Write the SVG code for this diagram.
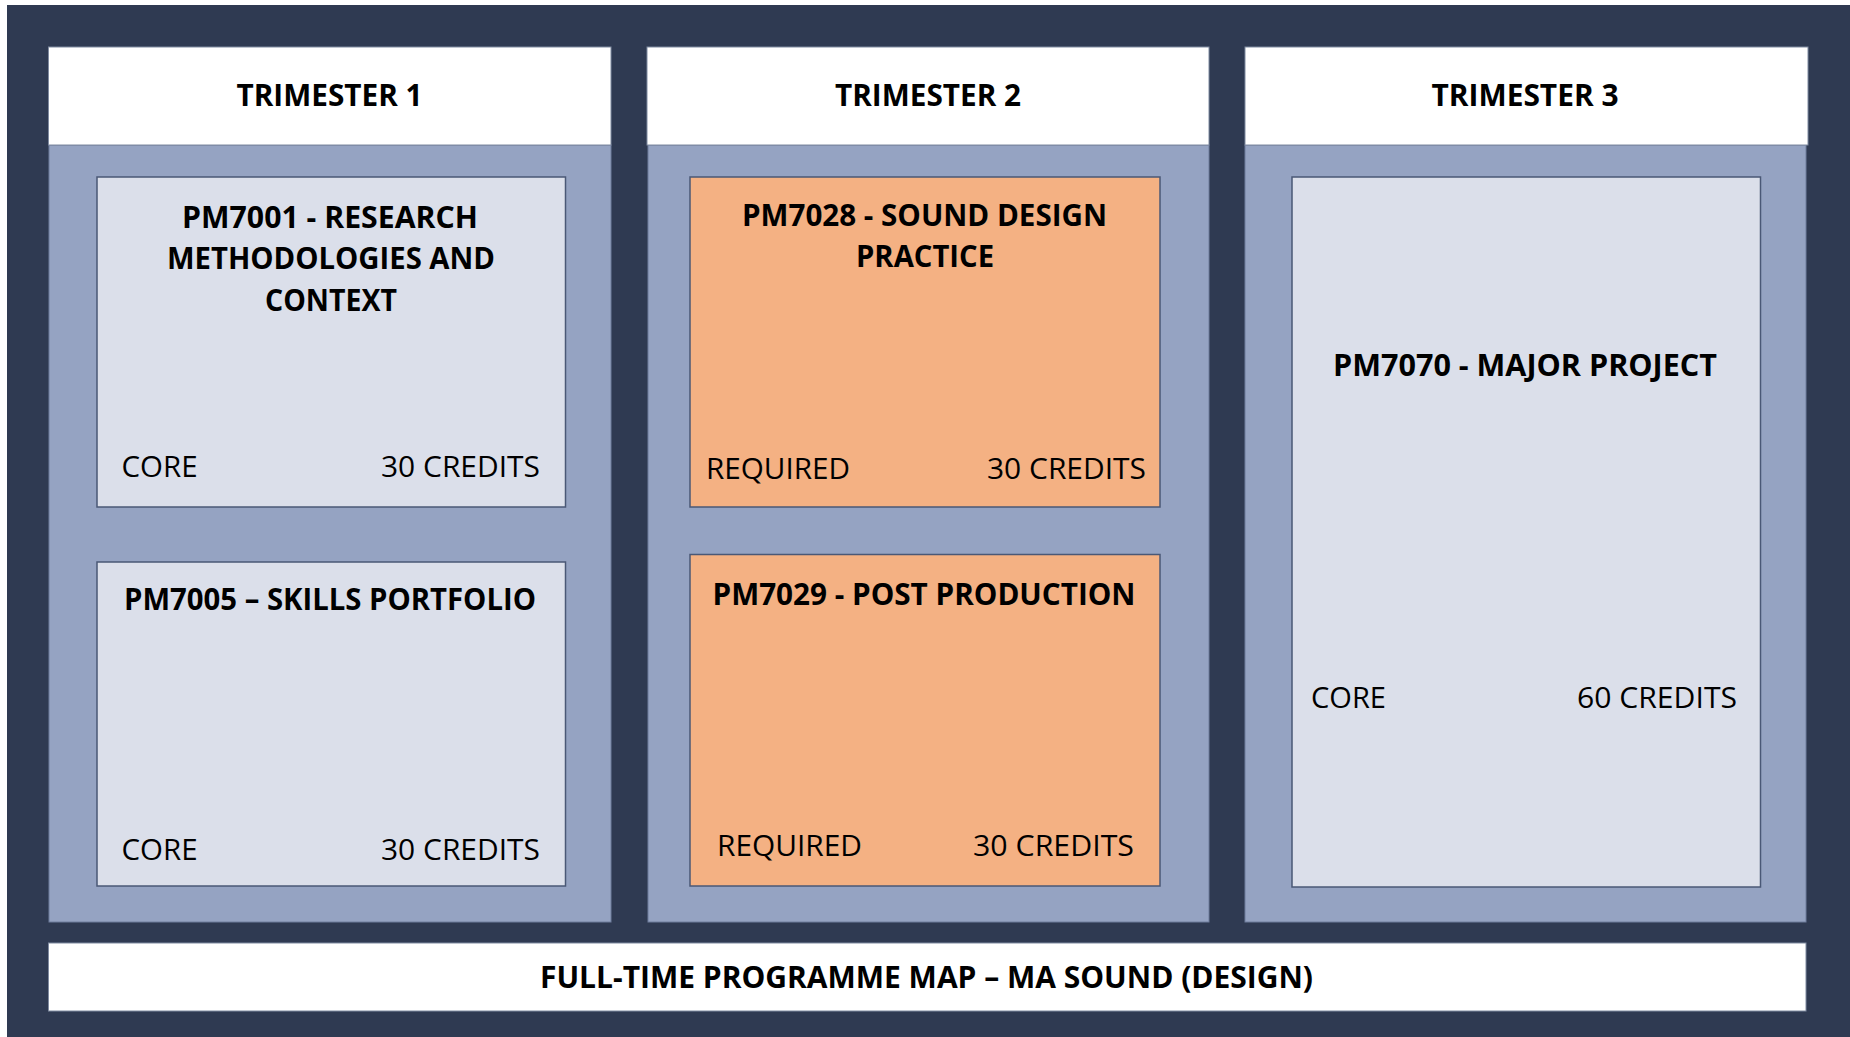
<svg xmlns="http://www.w3.org/2000/svg" width="1850" height="1037" viewBox="0 0 1850 1037">
  <style>
    .bg { fill: #2f3a52; }
    .header { fill: #ffffff; stroke: #7f8aa0; stroke-width: 1; }
    .panel { fill: #95a3c2; stroke: #6f7d9c; stroke-width: 1; }
    .box { fill: #dbdfea; stroke: #4a5876; stroke-width: 1.5; }
    .box-orange { fill: #f4b183; stroke: #4a5876; stroke-width: 1.5; }
    .bold { font-family: "Open Sans", "Noto Sans", "Liberation Sans", sans-serif; font-weight: 700; font-size: 31px; fill: #000000; }
    .reg { font-family: "Open Sans", "Noto Sans", "Liberation Sans", sans-serif; font-weight: 400; font-size: 29px; fill: #000000; }
    .mid { text-anchor: middle; }
  </style>
  <rect x="0" y="0" width="1850" height="1037" fill="#ffffff"/>
  <rect class="bg" x="7" y="5" width="1843" height="1032"/>

  <g id="trimester1">
    <rect class="panel" x="49" y="145" width="562" height="777"/>
    <rect class="header" x="48.5" y="47" width="562.5" height="98"/>
    <text class="bold mid" x="329.5" y="106" textLength="186" lengthAdjust="spacingAndGlyphs">TRIMESTER 1</text>
  </g>
  <g id="trimester2">
    <rect class="panel" x="648" y="145" width="561" height="777"/>
    <rect class="header" x="647" y="47" width="562" height="98"/>
    <text class="bold mid" x="928" y="106" textLength="186" lengthAdjust="spacingAndGlyphs">TRIMESTER 2</text>
  </g>
  <g id="trimester3">
    <rect class="panel" x="1245" y="145" width="561" height="777"/>
    <rect class="header" x="1245" y="47" width="563" height="98"/>
    <text class="bold mid" x="1525" y="106" textLength="187" lengthAdjust="spacingAndGlyphs">TRIMESTER 3</text>
  </g>

  <g id="pm7001">
    <rect class="box" x="97" y="177" width="468.5" height="330"/>
    <text class="bold mid" x="330" y="228" textLength="296" lengthAdjust="spacingAndGlyphs">PM7001 - RESEARCH</text>
    <text class="bold mid" x="331" y="269" textLength="328" lengthAdjust="spacingAndGlyphs">METHODOLOGIES AND</text>
    <text class="bold mid" x="331" y="311" textLength="132" lengthAdjust="spacingAndGlyphs">CONTEXT</text>
    <text class="reg" x="121.5" y="477" textLength="76" lengthAdjust="spacingAndGlyphs">CORE</text>
    <text class="reg" x="381" y="477" textLength="159" lengthAdjust="spacingAndGlyphs">30 CREDITS</text>
  </g>
  <g id="pm7005">
    <rect class="box" x="97" y="562" width="468.5" height="324"/>
    <text class="bold mid" x="330" y="610" textLength="412" lengthAdjust="spacingAndGlyphs">PM7005 – SKILLS PORTFOLIO</text>
    <text class="reg" x="121.5" y="860" textLength="76" lengthAdjust="spacingAndGlyphs">CORE</text>
    <text class="reg" x="381" y="860" textLength="159" lengthAdjust="spacingAndGlyphs">30 CREDITS</text>
  </g>

  <g id="pm7028">
    <rect class="box-orange" x="690" y="177" width="470" height="330"/>
    <text class="bold mid" x="924.5" y="226" textLength="365" lengthAdjust="spacingAndGlyphs">PM7028 - SOUND DESIGN</text>
    <text class="bold mid" x="925" y="267" textLength="138" lengthAdjust="spacingAndGlyphs">PRACTICE</text>
    <text class="reg" x="706" y="479" textLength="144" lengthAdjust="spacingAndGlyphs">REQUIRED</text>
    <text class="reg" x="987" y="479" textLength="159" lengthAdjust="spacingAndGlyphs">30 CREDITS</text>
  </g>
  <g id="pm7029">
    <rect class="box-orange" x="690" y="554.5" width="470" height="331.5"/>
    <text class="bold mid" x="924" y="605" textLength="423" lengthAdjust="spacingAndGlyphs">PM7029 - POST PRODUCTION</text>
    <text class="reg" x="717" y="856" textLength="145" lengthAdjust="spacingAndGlyphs">REQUIRED</text>
    <text class="reg" x="973" y="856" textLength="161" lengthAdjust="spacingAndGlyphs">30 CREDITS</text>
  </g>

  <g id="pm7070">
    <rect class="box" x="1292" y="177" width="468.5" height="710"/>
    <text class="bold mid" x="1525" y="376" textLength="384" lengthAdjust="spacingAndGlyphs">PM7070 - MAJOR PROJECT</text>
    <text class="reg" x="1311" y="708" textLength="75" lengthAdjust="spacingAndGlyphs">CORE</text>
    <text class="reg" x="1577" y="708" textLength="160" lengthAdjust="spacingAndGlyphs">60 CREDITS</text>
  </g>

  <g id="footer">
    <rect class="header" x="48.5" y="943" width="1757.5" height="68"/>
    <text class="bold mid" x="926.5" y="988" textLength="773" lengthAdjust="spacingAndGlyphs">FULL-TIME PROGRAMME MAP – MA SOUND (DESIGN)</text>
  </g>

  <g id="connectors"></g>
</svg>
